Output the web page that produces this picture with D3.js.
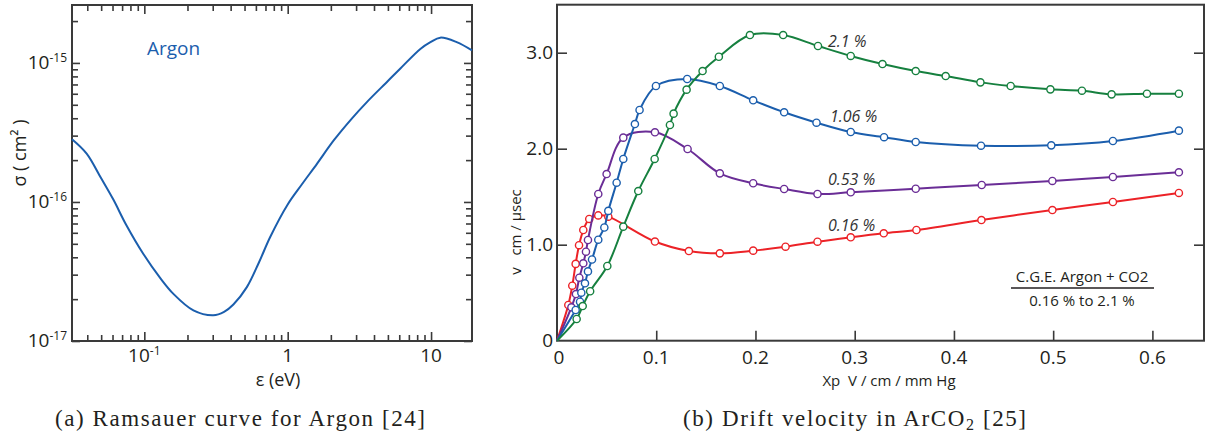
<!DOCTYPE html>
<html lang="en">
<head>
<meta charset="UTF-8">
<title>Ramsauer curve and drift velocity</title>
<style>
  body { margin: 0; background: #fff; }
  svg { display: block; }
  text { font-family: "Open Sans", sans-serif; fill: #231f20; }
  .caption { font-family: "Liberation Serif", serif; font-size: 23px; }
  .tick line { stroke: #3a3a3a; stroke-width: 1.6; }
  .pct { font-style: italic; font-size: 16px; fill: #333; }
</style>
<script src="https://d3js.org/d3.v7.min.js"></script>
</head>
<body>
<svg id="fig" width="1210" height="443"></svg>
<script>
// (a) Ramsauer curve for argon
const energy = [0.0313, 0.0396, 0.05, 0.0608, 0.075, 0.098, 0.13, 0.159, 0.22, 0.303, 0.36, 0.418, 0.519, 0.63, 0.755, 1.0, 1.25, 1.6, 2.1, 2.8, 3.58, 5.0, 6.11, 8.42, 9.9, 11.6, 15.1, 19.3];
const sigma = [2.83e-16, 2.23e-16, 1.48e-16, 1.04e-16, 6.8e-17, 4.26e-17, 2.81e-17, 2.19e-17, 1.66e-17, 1.53e-17, 1.62e-17, 1.83e-17, 2.44e-17, 3.67e-17, 5.6e-17, 9.6e-17, 1.33e-16, 1.88e-16, 2.78e-16, 3.98e-16, 5.25e-16, 7.41e-16, 9.12e-16, 1.26e-15, 1.41e-15, 1.52e-15, 1.41e-15, 1.23e-15];
const energyMajor = [0.1, 1, 10];
const sigmaMajor = [1e-17, 1e-16, 1e-15];

// (b) drift velocity in Ar + CO2, one pair of arrays per CO2 fraction
const seriesNames = ["0.16 %", "0.53 %", "1.06 %", "2.1 %"];
const xp016 = [0.0114, 0.0154, 0.0188, 0.0222, 0.0265, 0.0325, 0.0416, 0.0517, 0.0987, 0.1329, 0.1641, 0.1977, 0.2303, 0.2625, 0.296, 0.3293, 0.3622, 0.4277, 0.4992, 0.5602, 0.6267];
const v016 = [0.372, 0.573, 0.8, 0.995, 1.153, 1.268, 1.305, 1.292, 1.033, 0.934, 0.91, 0.938, 0.979, 1.031, 1.077, 1.119, 1.153, 1.257, 1.361, 1.445, 1.539];
const xp053 = [0.0145, 0.0191, 0.0225, 0.0265, 0.0292, 0.0312, 0.0416, 0.05, 0.0668, 0.0987, 0.1316, 0.1641, 0.1977, 0.2289, 0.2625, 0.296, 0.3615, 0.428, 0.4992, 0.5602, 0.6267];
const v053 = [0.348, 0.486, 0.656, 0.806, 0.927, 1.049, 1.528, 1.736, 2.115, 2.171, 1.997, 1.743, 1.64, 1.58, 1.528, 1.546, 1.583, 1.622, 1.664, 1.705, 1.754];
const xp106 = [0.0188, 0.0232, 0.0245, 0.0282, 0.0312, 0.0353, 0.0416, 0.0477, 0.0517, 0.0601, 0.0668, 0.0785, 0.0832, 0.0997, 0.1312, 0.1641, 0.1977, 0.2289, 0.2615, 0.296, 0.3296, 0.3615, 0.4273, 0.4981, 0.5602, 0.6267];
const v106 = [0.32, 0.406, 0.5, 0.598, 0.722, 0.846, 1.052, 1.179, 1.352, 1.646, 1.893, 2.257, 2.403, 2.653, 2.726, 2.653, 2.504, 2.379, 2.271, 2.174, 2.12, 2.07, 2.031, 2.035, 2.08, 2.188];
const xp21 = [0.0198, 0.0259, 0.0334, 0.0507, 0.0668, 0.0819, 0.0984, 0.1138, 0.1175, 0.1306, 0.1467, 0.1631, 0.1944, 0.2279, 0.263, 0.296, 0.328, 0.3615, 0.3917, 0.4267, 0.4572, 0.4972, 0.529, 0.5589, 0.5945, 0.6267];
const v21 = [0.226, 0.361, 0.515, 0.778, 1.188, 1.559, 1.893, 2.247, 2.365, 2.615, 2.809, 2.958, 3.184, 3.184, 3.07, 2.966, 2.882, 2.809, 2.757, 2.691, 2.653, 2.618, 2.604, 2.566, 2.573, 2.573];
const labelXp = [0.273, 0.273, 0.275, 0.273];
const labelV = [1.14, 1.62, 2.28, 3.06];
const xpTicks = [0, 0.1, 0.2, 0.3, 0.4, 0.5, 0.6];
const vTicks = [0, 1, 2, 3];

const colors = ["#ec2227", "#6a2d96", "#1b5ead", "#16803f"];
const argonBlue = "#1b5ead";
const frameColor = "#3a3a3a";

const svg = d3.select("#fig");
svg.append("rect").attr("width", 1210).attr("height", 443).attr("fill", "#fff");

// ---------- panel (a) ----------
const ax = d3.scaleLog().domain([0.0313, 19.3]).range([72, 472]);
const ay = d3.scaleLog().domain([1e-17, 2.61e-15]).range([341, 5]);
const pa = svg.append("g");

function logAxis(axisFn, scale, pos, size, values) {
  const g = pa.append("g")
    .attr("transform", pos)
    .call(axisFn(scale).tickValues(values).tickSize(size).tickFormat(""));
  g.select(".domain").remove();
  return g;
}
const xMinor = ax.ticks().filter(d => !energyMajor.includes(d));
const yMinor = ay.ticks().filter(d => !sigmaMajor.some(m => Math.abs(m - d) / m < 1e-6));
logAxis(d3.axisBottom, ax, "translate(0,341)", -6, xMinor);
logAxis(d3.axisBottom, ax, "translate(0,341)", -9, energyMajor);
logAxis(d3.axisTop, ax, "translate(0,5)", -6, xMinor);
logAxis(d3.axisTop, ax, "translate(0,5)", -9, energyMajor);
logAxis(d3.axisLeft, ay, "translate(72,0)", -6, yMinor);
logAxis(d3.axisLeft, ay, "translate(72,0)", -8, sigmaMajor);
logAxis(d3.axisRight, ay, "translate(472,0)", -6, yMinor);
logAxis(d3.axisRight, ay, "translate(472,0)", -8, sigmaMajor);

pa.append("rect").attr("x", 72).attr("y", 5).attr("width", 400).attr("height", 336)
  .attr("fill", "none").attr("stroke", frameColor).attr("stroke-width", 2);

function powerLabel(sel, exp) {
  sel.append("tspan").text("10");
  sel.append("tspan").attr("font-size", 12).attr("dy", -7).text(exp);
}
energyMajor.forEach(d => {
  const t = pa.append("text").attr("x", ax(d)).attr("y", 362)
    .attr("text-anchor", "middle").attr("font-size", 19);
  const e = Math.round(Math.log10(d));
  if (e < 0) powerLabel(t, String(e)); else t.text(String(d));
});
sigmaMajor.forEach(d => {
  const t = pa.append("text").attr("x", 67).attr("y", ay(d) + 6)
    .attr("text-anchor", "end").attr("font-size", 19);
  powerLabel(t, String(Math.round(Math.log10(d))));
});

pa.append("path")
  .datum(d3.zip(energy, sigma))
  .attr("fill", "none").attr("stroke", argonBlue).attr("stroke-width", 2)
  .attr("d", d3.line().x(d => ax(d[0])).y(d => ay(d[1])).curve(d3.curveCatmullRom.alpha(0.5)));

pa.append("text").attr("x", 147).attr("y", 55).attr("font-size", 19)
  .style("fill", argonBlue).text("Argon");
pa.append("text").attr("x", 278).attr("y", 386).attr("text-anchor", "middle")
  .attr("font-size", 18).text("ε (eV)");
pa.append("text").attr("transform", "translate(26,153) rotate(-90)")
  .attr("text-anchor", "middle").attr("font-size", 18).text("σ ( cm² )");

// ---------- panel (b) ----------
const bx = d3.scaleLinear().domain([0, 0.652]).range([557, 1204]);
const by = d3.scaleLinear().domain([0, 3.5]).range([340.7, 4.7]);
const pb = svg.append("g");

function linAxis(axisFn, scale, pos, values) {
  const g = pb.append("g")
    .attr("transform", pos)
    .call(axisFn(scale).tickValues(values).tickSize(-10).tickFormat(""));
  g.select(".domain").remove();
}
linAxis(d3.axisBottom, bx, "translate(0,340.7)", xpTicks.slice(1));
linAxis(d3.axisLeft, by, "translate(557,0)", vTicks.slice(1));
linAxis(d3.axisRight, by, "translate(1204,0)", vTicks.slice(1));

pb.append("rect").attr("x", 557).attr("y", 4.7).attr("width", 647).attr("height", 336)
  .attr("fill", "none").attr("stroke", frameColor).attr("stroke-width", 2);

xpTicks.forEach(d => {
  pb.append("text").attr("x", bx(d) + (d === 0 ? 2 : 0)).attr("y", 364)
    .attr("text-anchor", "middle").attr("font-size", 19)
    .text(d === 0 ? "0" : d3.format(".1f")(d));
});
vTicks.forEach(d => {
  pb.append("text").attr("x", 553).attr("y", by(d) + 6.5)
    .attr("text-anchor", "end").attr("font-size", 19)
    .text(d === 0 ? "0" : d3.format(".1f")(d));
});

const series = [[xp016, v016], [xp053, v053], [xp106, v106], [xp21, v21]];
const curve = d3.line().x(d => bx(d[0])).y(d => by(d[1])).curve(d3.curveCatmullRom.alpha(0.5));
series.forEach(([xs, vs], i) => {
  const pts = d3.zip(xs, vs);
  pb.append("path")
    .datum([[0, 0]].concat(pts))
    .attr("fill", "none").attr("stroke", colors[i]).attr("stroke-width", 2)
    .attr("d", curve);
  pb.append("g").selectAll("circle")
    .data(pts)
    .join("circle")
    .attr("cx", d => bx(d[0])).attr("cy", d => by(d[1])).attr("r", 3.6)
    .attr("fill", "#fff").attr("stroke", colors[i]).attr("stroke-width", 1.4);
  pb.append("text").attr("class", "pct")
    .attr("x", bx(labelXp[i])).attr("y", by(labelV[i]))
    .text(seriesNames[i]);
});

pb.append("text").attr("x", 1082).attr("y", 282).attr("text-anchor", "middle")
  .attr("font-size", 15).text("C.G.E. Argon + CO2");
pb.append("line").attr("x1", 1011).attr("x2", 1154).attr("y1", 288).attr("y2", 288)
  .attr("stroke", "#231f20").attr("stroke-width", 1.5);
pb.append("text").attr("x", 1082).attr("y", 306).attr("text-anchor", "middle")
  .attr("font-size", 15).text("0.16 % to 2.1 %");

pb.append("text").attr("x", 889).attr("y", 386).attr("text-anchor", "middle")
  .attr("font-size", 15).attr("xml:space", "preserve").text("Xp  V / cm / mm Hg");
pb.append("text").attr("transform", "translate(521,232) rotate(-90)")
  .attr("text-anchor", "middle").attr("font-size", 15)
  .attr("xml:space", "preserve").text("v   cm / µsec");

// ---------- captions ----------
svg.append("text").attr("class", "caption").attr("x", 55).attr("y", 426)
  .attr("textLength", 370).text("(a) Ramsauer curve for Argon [24]");
const capB = svg.append("text").attr("class", "caption").attr("x", 683).attr("y", 426)
  .attr("textLength", 343);
capB.append("tspan").text("(b) Drift velocity in ArCO");
capB.append("tspan").attr("font-size", 16).attr("dy", 4).text("2");
capB.append("tspan").attr("dy", -4).text(" [25]");
</script>
</body>
</html>
